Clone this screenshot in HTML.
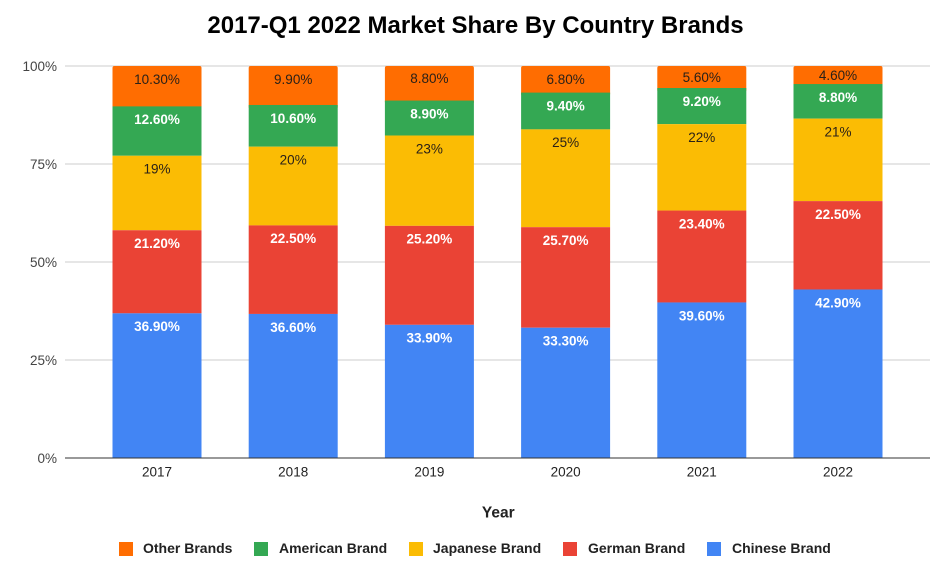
<!DOCTYPE html>
<html><head><meta charset="utf-8"><style>
html,body{margin:0;padding:0;background:#fff;}
svg{display:block;font-family:"Liberation Sans",Arial,sans-serif;}
</style></head><body>
<svg width="941" height="579" viewBox="0 0 941 579" xmlns="http://www.w3.org/2000/svg">
<rect width="941" height="579" fill="#fff"/>
<text x="475.5" y="33" text-anchor="middle" font-size="24" font-weight="bold" fill="#000">2017-Q1 2022 Market Share By Country Brands</text>
<g stroke="#cccccc" stroke-width="1">
<line x1="65" y1="66" x2="930" y2="66"/>
<line x1="65" y1="164" x2="930" y2="164"/>
<line x1="65" y1="262" x2="930" y2="262"/>
<line x1="65" y1="360" x2="930" y2="360"/>
</g>
<g font-size="13.5" fill="#444" text-anchor="end">
<text x="57" y="70.8">100%</text>
<text x="57" y="168.8">75%</text>
<text x="57" y="266.8">50%</text>
<text x="57" y="364.8">25%</text>
<text x="57" y="462.8">0%</text>
</g>
<!-- Bars -->
<g>
<rect x="112.5" y="66" width="89" height="45" rx="2" fill="#ff6d01"/>
<rect x="112.5" y="106.38" width="89" height="49.39" fill="#34a853"/>
<rect x="112.5" y="155.77" width="89" height="74.48" fill="#fbbc04"/>
<rect x="112.5" y="230.25" width="89" height="83.1" fill="#ea4335"/>
<rect x="112.5" y="313.35" width="89" height="144.65" fill="#4285f4"/>
<rect x="248.7" y="66" width="89" height="43" rx="2" fill="#ff6d01"/>
<rect x="248.7" y="104.97" width="89" height="41.72" fill="#34a853"/>
<rect x="248.7" y="146.69" width="89" height="78.71" fill="#fbbc04"/>
<rect x="248.7" y="225.4" width="89" height="88.55" fill="#ea4335"/>
<rect x="248.7" y="313.95" width="89" height="144.05" fill="#4285f4"/>
<rect x="384.9" y="66" width="89" height="38" rx="2" fill="#ff6d01"/>
<rect x="384.9" y="100.56" width="89" height="34.96" fill="#34a853"/>
<rect x="384.9" y="135.52" width="89" height="90.34" fill="#fbbc04"/>
<rect x="384.9" y="225.86" width="89" height="98.98" fill="#ea4335"/>
<rect x="384.9" y="324.84" width="89" height="133.16" fill="#4285f4"/>
<rect x="521.1" y="66" width="89" height="30" rx="2" fill="#ff6d01"/>
<rect x="521.1" y="92.6" width="89" height="36.78" fill="#34a853"/>
<rect x="521.1" y="129.38" width="89" height="97.8" fill="#fbbc04"/>
<rect x="521.1" y="227.18" width="89" height="100.54" fill="#ea4335"/>
<rect x="521.1" y="327.72" width="89" height="130.28" fill="#4285f4"/>
<rect x="657.3" y="66" width="89" height="26" rx="2" fill="#ff6d01"/>
<rect x="657.3" y="88" width="89" height="36.14" fill="#34a853"/>
<rect x="657.3" y="124.14" width="89" height="86.41" fill="#fbbc04"/>
<rect x="657.3" y="210.55" width="89" height="91.91" fill="#ea4335"/>
<rect x="657.3" y="302.46" width="89" height="155.54" fill="#4285f4"/>
<rect x="793.5" y="66" width="89" height="22" rx="2" fill="#ff6d01"/>
<rect x="793.5" y="84.05" width="89" height="34.57" fill="#34a853"/>
<rect x="793.5" y="118.62" width="89" height="82.49" fill="#fbbc04"/>
<rect x="793.5" y="201.11" width="89" height="88.38" fill="#ea4335"/>
<rect x="793.5" y="289.49" width="89" height="168.51" fill="#4285f4"/>
</g>
<line x1="65" y1="458" x2="930" y2="458" stroke="#333" stroke-width="1"/>
<!-- Data labels -->
<g font-size="13.5" text-anchor="middle">
<g fill="#2a2118">
<text x="157" y="83.8">10.30%</text>
<text x="157" y="173.6">19%</text>
<text x="293.2" y="83.8">9.90%</text>
<text x="293.2" y="164.5">20%</text>
<text x="429.4" y="83.1">8.80%</text>
<text x="429.4" y="153.3">23%</text>
<text x="565.6" y="83.8">6.80%</text>
<text x="565.6" y="147.2">25%</text>
<text x="701.8" y="81.8">5.60%</text>
<text x="701.8" y="141.9">22%</text>
<text x="838" y="79.8">4.60%</text>
<text x="838" y="136.4">21%</text>
</g>
<g fill="#fff" font-weight="bold">
<text x="157" y="124.2">12.60%</text>
<text x="157" y="248.1">21.20%</text>
<text x="157" y="331.2">36.90%</text>
<text x="293.2" y="122.8">10.60%</text>
<text x="293.2" y="243.2">22.50%</text>
<text x="293.2" y="331.8">36.60%</text>
<text x="429.4" y="118.4">8.90%</text>
<text x="429.4" y="243.7">25.20%</text>
<text x="429.4" y="342.6">33.90%</text>
<text x="565.6" y="110.4">9.40%</text>
<text x="565.6" y="245">25.70%</text>
<text x="565.6" y="345.5">33.30%</text>
<text x="701.8" y="105.8">9.20%</text>
<text x="701.8" y="228.4">23.40%</text>
<text x="701.8" y="320.3">39.60%</text>
<text x="838" y="101.9">8.80%</text>
<text x="838" y="218.9">22.50%</text>
<text x="838" y="307.3">42.90%</text>
</g>
</g>
<g font-size="13.5" fill="#222" text-anchor="middle">
<text x="157" y="476.5">2017</text>
<text x="293.2" y="476.5">2018</text>
<text x="429.4" y="476.5">2019</text>
<text x="565.6" y="476.5">2020</text>
<text x="701.8" y="476.5">2021</text>
<text x="838" y="476.5">2022</text>
</g>
<text x="498.3" y="517.5" text-anchor="middle" font-size="15.5" font-weight="bold" fill="#222">Year</text>
<g font-size="14" font-weight="bold" fill="#222">
<rect x="119" y="542" width="14" height="14" fill="#ff6d01"/>
<text x="143" y="553">Other Brands</text>
<rect x="254" y="542" width="14" height="14" fill="#34a853"/>
<text x="279" y="553">American Brand</text>
<rect x="409" y="542" width="14" height="14" fill="#fbbc04"/>
<text x="433" y="553">Japanese Brand</text>
<rect x="563" y="542" width="14" height="14" fill="#ea4335"/>
<text x="588" y="553">German Brand</text>
<rect x="707" y="542" width="14" height="14" fill="#4285f4"/>
<text x="732" y="553">Chinese Brand</text>
</g>
</svg>
</body></html>
